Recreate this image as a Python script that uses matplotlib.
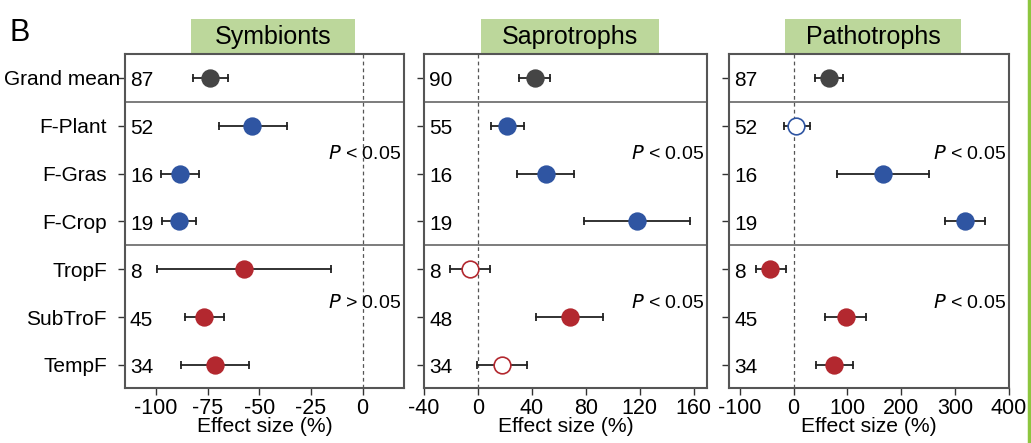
import numpy as np
import matplotlib.pyplot as plt
from matplotlib.patches import Rectangle
from matplotlib.lines import Line2D

plt.rcParams['font.family'] = ['Liberation Sans', 'DejaVu Sans']

# rows, top to bottom
groups = ['Grand mean', 'F-Plant', 'F-Gras', 'F-Crop', 'TropF', 'SubTroF', 'TempF']
colors = ['#454545', '#2f55a2', '#2f55a2', '#2f55a2', '#b3282f', '#b3282f', '#b3282f']

titles = ['Symbionts', 'Saprotrophs', 'Pathotrophs']

sym_mean = [-74, -53.3, -88.5, -89, -57.5, -76.7, -71.6]
sym_lo = [-82, -69.6, -97.8, -96.9, -99.3, -86, -88]
sym_hi = [-65, -36.7, -79.2, -80.8, -15.5, -67, -55]
sym_n = [87, 52, 16, 19, 8, 45, 34]
sym_open = [False] * 7

sap_mean = [42.4, 21.6, 50.3, 117.7, -6, 68.4, 17.8]
sap_lo = [30.5, 9.4, 29, 78.4, -21, 43, -0.7]
sap_hi = [53.5, 34.2, 71, 157.4, 9, 92.7, 36.7]
sap_n = [90, 55, 16, 19, 8, 48, 34]
sap_open = [False, False, False, False, True, False, True]

pat_mean = [65, 5, 166, 318, -43, 97.5, 75]
pat_lo = [39, -18.5, 81, 281, -70, 58, 41]
pat_hi = [92, 30, 251, 356, -15, 135, 110]
pat_n = [87, 52, 16, 19, 8, 45, 34]
pat_open = [False, True, False, False, False, False, False]

p_text = [('< 0.05', '> 0.05'), ('< 0.05', '< 0.05'), ('< 0.05', '< 0.05')]
xlims = [(-115, 20), (-40, 170), (-120, 400)]
xticks = [[-100, -75, -50, -25, 0], [-40, 0, 40, 80, 120, 160], [-100, 0, 100, 200, 300, 400]]

panels = [
    (sym_mean, sym_lo, sym_hi, sym_n, sym_open),
    (sap_mean, sap_lo, sap_hi, sap_n, sap_open),
    (pat_mean, pat_lo, pat_hi, pat_n, pat_open),
]

fig = plt.figure(figsize=(10.31, 4.43), dpi=100)
lefts = [0.1212, 0.4113, 0.7071]
widths = [0.2706, 0.2745, 0.2716]
boxes = [(0.237, 0.824), (0.201, 0.830), (0.200, 0.829)]

ypos = np.arange(len(groups))
for k in range(3):
    ax = fig.add_axes([lefts[k], 0.1242, widths[k], 0.754])
    mean, lo, hi, n, opened = panels[k]
    ax.axvline(0, color='#555555', ls=(0, (3, 2.5)), lw=0.9, zorder=1)
    ax.axhline(0.5, color='#666666', lw=1.2, zorder=1)
    ax.axhline(3.5, color='#666666', lw=1.2, zorder=1)
    for i in range(len(groups)):
        ax.plot([lo[i], hi[i]], [ypos[i], ypos[i]], color='#222222', lw=1.3, zorder=2)
        ax.plot([lo[i], hi[i]], [ypos[i], ypos[i]], ls='none', marker='|', ms=6,
                mew=1.3, color='#222222', zorder=2)
        face = 'white' if opened[i] else colors[i]
        ax.plot(mean[i], ypos[i], 'o', ms=12, mfc=face, mec=colors[i], mew=1.2, zorder=3)
        ax.text(0.018, ypos[i] + 0.06, str(n[i]), transform=ax.get_yaxis_transform(),
                ha='left', va='center', fontsize=15)
    ax.text(0.99, 1.6, r'$\it{P}$ ' + p_text[k][0], transform=ax.get_yaxis_transform(),
            ha='right', va='center', fontsize=14)
    ax.text(0.99, 4.7, r'$\it{P}$ ' + p_text[k][1], transform=ax.get_yaxis_transform(),
            ha='right', va='center', fontsize=14)
    ax.set_xlim(*xlims[k])
    ax.set_ylim(6.48, -0.5)
    ax.set_xticks(xticks[k])
    ax.set_xticklabels([str(t) for t in xticks[k]], fontsize=15.5)
    ax.set_yticks(ypos)
    ax.set_yticklabels([])
    if k == 0:
        for i, g in enumerate(groups):
            xr = -0.018 if i == 0 else -0.065
            ax.text(xr, ypos[i] + 0.04, g, transform=ax.get_yaxis_transform(),
                    ha='right', va='center', fontsize=15)
    ax.tick_params(axis='both', direction='out', length=5, width=1, color='#333333', pad=2)
    ax.set_xlabel('Effect size (%)', fontsize=15.2, labelpad=-1)
    for s in ax.spines.values():
        s.set_color('#555555')
        s.set_linewidth(1.5)
    x0, x1 = boxes[k]
    ax.add_patch(Rectangle((x0, 1.0), x1 - x0, 0.105, transform=ax.transAxes,
                           facecolor='#bcd79b', edgecolor='none', clip_on=False))
    ax.text((x0 + x1) / 2, 1.05, titles[k], transform=ax.transAxes,
            ha='center', va='center', fontsize=18)

fig.text(0.009, 1 - 41 / 443, 'B', fontsize=22, ha='left', va='baseline')
fig.add_artist(Line2D([0.9985, 0.9985], [0, 1], transform=fig.transFigure,
                      color='#8dc63f', lw=2.5))

fig.savefig('out.png', dpi=100)
